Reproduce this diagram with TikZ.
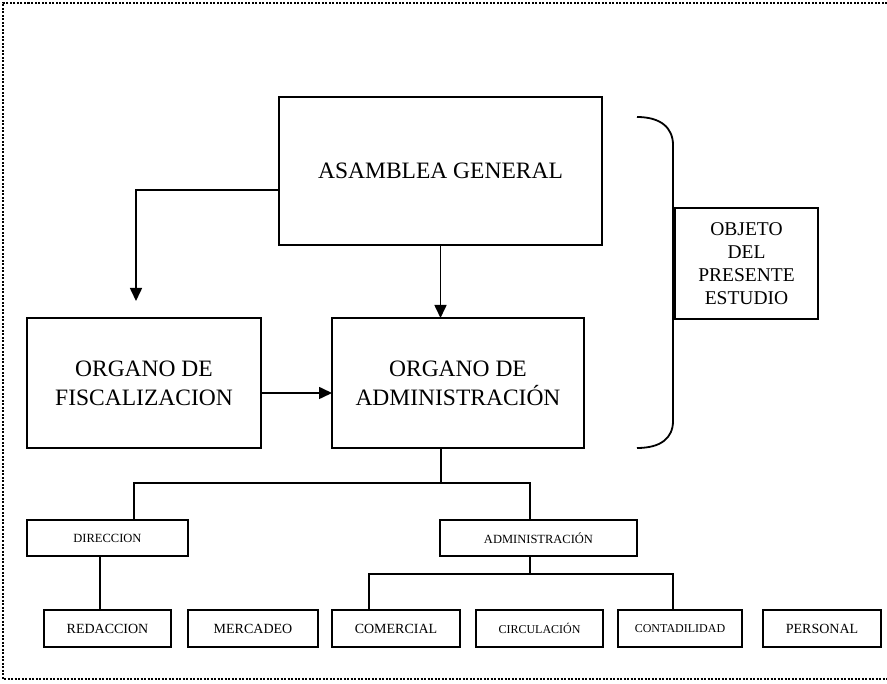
\documentclass[tikz,border=0pt]{standalone}
\usepackage{fontspec}
\setmainfont{Liberation Serif}
\usetikzlibrary{arrows.meta}
\tikzset{
  box/.style={draw, line width=1.6pt, inner sep=0pt, outer sep=0pt, align=center},
  bigtxt/.style={font=\fontsize{23.5}{29}\selectfont},
  midtxt/.style={font=\fontsize{19.5}{23}\selectfont},
  smalltxt/.style={font=\fontsize{12.5}{14}\selectfont},
  bottxt/.style={font=\fontsize{14}{16}\selectfont},
  tinytxt/.style={font=\fontsize{12}{14}\selectfont},
  conn/.style={line width=1.6pt},
  arr/.style={line width=1.6pt, -{Triangle[length=13pt,width=12pt]}},
}
\begin{document}
\begin{tikzpicture}[x=1pt,y=-1pt]
\useasboundingbox (0,0) rectangle (887,684);
% dotted frame
\draw[line width=2pt, dash pattern=on 2pt off 1.5pt] (887,3) -- (3,3) -- (3,679) -- (887,679);

% main boxes
\node[box, bigtxt, minimum width=323, minimum height=148] (ag) at (440.5,171) {ASAMBLEA GENERAL};
\node[box, bigtxt, minimum width=234, minimum height=130] (fisc) at (144,383) {ORGANO DE\\FISCALIZACION};
\node[box, bigtxt, minimum width=252, minimum height=130] (adm) at (458,383) {ORGANO DE\\ADMINISTRACIÓN};
\node[box, midtxt, minimum width=143, minimum height=111] (obj) at (746.5,263.5) {OBJETO\\DEL\\PRESENTE\\ESTUDIO};

% second level
\node[box, smalltxt, minimum width=161, minimum height=36] (dir) at (107.5,538) {DIRECCION};
\node[box, smalltxt, minimum width=197, minimum height=36] (admn) at (538.5,538) {ADMINISTRACIÓN};

% bottom row
\node[box, bottxt, minimum width=127, minimum height=37] (red) at (107.5,628.5) {REDACCION};
\node[box, bottxt, minimum width=130, minimum height=37] (mer) at (253,628.5) {MERCADEO};
\node[box, bottxt, minimum width=128, minimum height=37] (com) at (396,628.5) {COMERCIAL};
\node[box, tinytxt, minimum width=127, minimum height=37] (cir) at (539.5,628.5) {CIRCULACIÓN};
\node[box, tinytxt, minimum width=124, minimum height=37] (con) at (680,628.5) {CONTADILIDAD};
\node[box, bottxt, minimum width=118, minimum height=37] (per) at (822,628.5) {PERSONAL};

% brace
\draw[line width=1.8pt] (637,117) .. controls (661,117) and (673,128) .. (673,145)
  -- (673,421) .. controls (673,438) and (661,448) .. (637,448);

% arrows
\coordinate (fa) at (136,301);
\draw[arr] ([yshift=-19pt]ag.west) -| (fa);
\draw[arr] (ag.south) -- (ag.south |- adm.north);
\draw[arr] ([yshift=-10pt]fisc.east) -- ([yshift=-10pt]adm.west);

% tree connectors
\coordinate (j1) at (441,483);
\draw[conn] (j1 |- adm.south) -- (j1);
\draw[conn] ([xshift=26.5pt]dir.north) |- (j1);
\draw[conn] ([xshift=-8.5pt]admn.north) |- (j1);
\draw[conn] ([xshift=-7.5pt]dir.south) -- ([xshift=-7.5pt]red.north);
\coordinate (j2) at (530,574);
\draw[conn] ([xshift=-8.5pt]admn.south) -- (j2);
\draw[conn] ([xshift=-27pt]com.north) |- (j2);
\draw[conn] ([xshift=-7pt]con.north) |- (j2);
\end{tikzpicture}
\end{document}
